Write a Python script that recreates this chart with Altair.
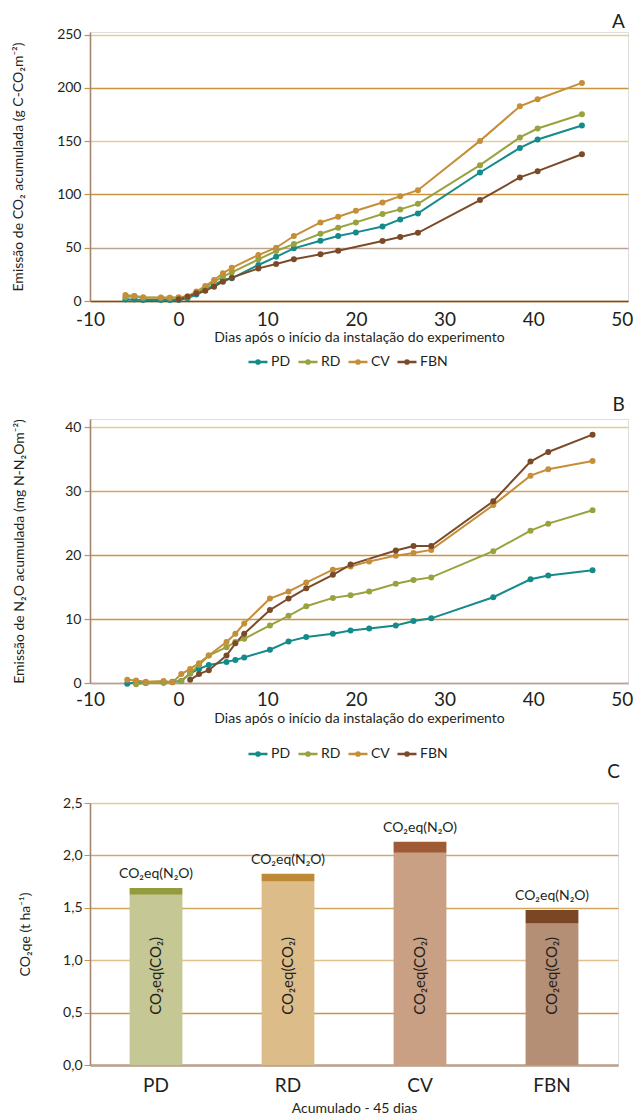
import altair as alt
import pandas as pd

FONT = "Lato"
TXT = "#231f20"

series = ["PD", "RD", "CV", "FBN"]
line_colors = ["#158a8b", "#99a23f", "#c58e38", "#7b4a28"]

# ---------------- Panel A: CO2 acumulado ----------------
A_days = [-6, -5, -4, -2, -1, 0, 1, 2, 3, 4, 5, 6, 9, 11, 13, 16, 18, 20, 23, 25, 27, 34, 38.5, 40.5, 45.5]
A_PD = [1.5, 1.5, 1.0, 1.0, 1.0, 1.0, 2.5, 6.0, 10.0, 15.0, 19.7, 21.3, 33.8, 41.5, 49.4, 56.6, 61.0, 64.4, 70.0, 76.6, 82.2, 120.6, 143.7, 151.6, 164.7]
A_RD = [3.5, 4.7, 3.0, 3.0, 3.0, 3.0, 3.5, 7.8, 11.9, 18.1, 22.8, 26.9, 39.1, 46.9, 53.4, 63.1, 68.7, 73.8, 81.6, 86.0, 91.2, 127.5, 153.5, 161.9, 175.3]
A_CV = [5.6, 4.7, 3.6, 3.4, 3.1, 3.5, 4.5, 8.8, 14.0, 19.7, 26.0, 31.2, 43.1, 50.0, 61.0, 73.8, 79.1, 84.7, 92.5, 98.4, 104.0, 150.3, 182.8, 189.4, 204.7]
A_FBN = [None, None, None, None, None, 1.6, 4.0, 7.2, 9.7, 13.4, 18.1, 21.9, 30.6, 34.7, 39.1, 43.8, 47.2, None, 56.3, 60.0, 64.0, 94.7, 116.0, 121.9, 137.8]

# ---------------- Panel B: N2O acumulado ----------------
B_days = [-5.8, -4.8, -3.7, -1.7, -0.7, 0.3, 1.3, 2.3, 3.4, 5.4, 6.4, 7.4, 10.3, 12.4, 14.4, 17.4, 19.4, 21.5, 24.5, 26.5, 28.5, 35.5, 39.7, 41.7, 46.7]
B_PD = [-0.1, 0.1, 0.0, 0.1, 0.2, 0.3, 1.5, 2.2, 2.8, 3.3, 3.6, 4.0, 5.2, 6.5, 7.2, 7.7, 8.2, 8.5, 9.0, 9.7, 10.1, 13.4, 16.2, 16.8, 17.6]
B_RD = [None, -0.2, 0.0, 0.0, 0.1, 0.3, 1.5, 2.8, 4.3, 5.6, 6.4, 6.9, 9.0, 10.5, 12.0, 13.3, 13.7, 14.3, 15.5, 16.1, 16.5, 20.6, 23.8, 24.9, 27.0]
B_CV = [0.5, 0.4, 0.2, 0.3, 0.1, 1.4, 2.2, 3.1, 4.3, 6.4, 7.7, 9.3, 13.2, 14.3, 15.7, 17.7, 18.2, 19.0, 19.9, 20.3, 20.8, 27.8, 32.4, 33.4, 34.7]
B_FBN = [None, None, None, None, None, None, 0.5, 1.4, 2.0, 4.3, 6.2, 7.7, 11.4, 13.2, 14.8, 16.9, 18.5, None, 20.7, 21.4, 21.4, 28.4, 34.6, 36.1, 38.8]

# ---------------- Panel C: CO2 equivalente ----------------
C_cats = ["PD", "RD", "CV", "FBN"]
C_co2 = [1.625, 1.75, 2.025, 1.35]
C_n2o = [0.065, 0.075, 0.105, 0.13]
C_colors_co2 = ["#c5c795", "#dcbd8a", "#c9a084", "#b48f75"]
C_colors_n2o = ["#939b3c", "#bf8a36", "#9e5b34", "#7a4625"]

x_ticks = [-10, 0, 10, 20, 30, 40, 50]
A_yticks = [0, 50, 100, 150, 200, 250]
B_yticks = [0, 10, 20, 30, 40]
C_yticks = [0, 0.5, 1.0, 1.5, 2.0, 2.5]

LIGHT = "#e3cb9f"
MID = "#d3a55c"
GOLD = "#c99540"
GREYBR = "#bba394"

SYM = "M-1,0L1,0M-0.17,0A0.17,0.17,0,1,1,0.17,0A0.17,0.17,0,1,1,-0.17,0Z"


def long_df(days, cols):
    rows = []
    for name, vals in zip(series, cols):
        for d, v in zip(days, vals):
            if v is not None:
                rows.append({"dia": d, "valor": v, "trat": name})
    return pd.DataFrame(rows)


def line_panel(df, ymax, yticks, ytitle, grid_cond, xdomain_color, letter, height,
               legend_y, title_x, lab_pad, tit_pad, t_off, t_dy):
    base = alt.Chart(df)
    x = alt.X(
        "dia:Q",
        scale=alt.Scale(domain=[-10, 50.7], nice=False, zero=False),
        axis=alt.Axis(
            values=x_ticks, title="Dias após o início da instalação do experimento",
            grid=False, ticks=False, labelFontSize=19, labelFlush=False,
            labelExpr="replace(datum.label, '−', '-')",
            domainColor=xdomain_color, domainWidth=1.6, titleFontSize=14,
            titleFontWeight="normal", labelPadding=lab_pad, titlePadding=tit_pad,
            labelColor=TXT, titleColor=TXT, labelFont=FONT, titleFont=FONT,
        ),
    )
    y = alt.Y(
        "valor:Q",
        scale=alt.Scale(domain=[0, ymax], nice=False, zero=False),
        axis=alt.Axis(
            values=yticks, title=ytitle, gridColor=grid_cond, gridWidth=1.5,
            tickColor=GOLD, tickSize=6, tickWidth=1.2, domainColor="#a4866f",
            domainWidth=1.6, labelFontSize=14, titleFontSize=14,
            titleFontWeight="normal", labelPadding=3, titleX=title_x,
            labelColor=TXT, titleColor=TXT, labelFont=FONT, titleFont=FONT,
        ),
    )
    color = alt.Color(
        "trat:N", sort=series,
        scale=alt.Scale(domain=series, range=line_colors),
        legend=alt.Legend(
            orient="none", legendX=157, legendY=legend_y, direction="horizontal",
            title=None, symbolType=SYM, symbolSize=361, symbolStrokeWidth=2.4,
            labelFontSize=14, labelFont=FONT, labelColor=TXT, columnPadding=2,
            labelOffset=2,
        ),
    )
    line = base.mark_line(strokeWidth=2).encode(x=x, y=y, color=color)
    pts = base.mark_circle(size=36, opacity=1).encode(
        x="dia:Q", y="valor:Q",
        color=alt.Color("trat:N", sort=series, scale=alt.Scale(domain=series, range=line_colors), legend=None),
    )
    return alt.layer(line, pts).properties(
        width=538, height=height,
        title=alt.TitleParams(letter, anchor="end", fontSize=19, fontWeight="normal",
                              font=FONT, color=TXT, dx=-8, dy=t_dy, offset=t_off),
    )


A_grid = {"condition": [
    {"test": "datum.value == 50", "value": GREYBR},
    {"test": "datum.value == 250 || datum.value == 150", "value": LIGHT},
], "value": GOLD}
B_grid = {"condition": [
    {"test": "datum.value == 0", "value": GREYBR},
    {"test": "datum.value == 40", "value": LIGHT},
    {"test": "datum.value == 30", "value": MID},
], "value": GOLD}
C_grid = {"condition": [
    {"test": "datum.value == 2.5", "value": LIGHT},
    {"test": "datum.value == 2", "value": "#d0a777"},
    {"test": "datum.value == 1", "value": "#e1c08d"},
    {"test": "datum.value == 1.5", "value": MID},
], "value": GOLD}

chartA = line_panel(long_df(A_days, [A_PD, A_RD, A_CV, A_FBN]), 252.5, A_yticks,
                    "Emissão de CO₂ acumulada (g C-CO₂m⁻²)", A_grid, "#7b4a28", "A", 269,
                    319, -65, 9, 1, 0, 4)
chartB = line_panel(long_df(B_days, [B_PD, B_RD, B_CV, B_FBN]), 41.25, B_yticks,
                    "Emissão de N₂O acumulada (mg N-N₂Om⁻²)", B_grid, GREYBR, "B", 264,
                    324, -64, 7, 2, 4, 0)

# Panel C data frames
rows = []
keys, kcolors = [], []
for i, c in enumerate(C_cats):
    rows.append({"cat": c, "parte": "CO2", "ordem": 0, "valor": C_co2[i], "chave": c + "_CO2"})
    rows.append({"cat": c, "parte": "N2O", "ordem": 1, "valor": C_n2o[i], "chave": c + "_N2O"})
    keys += [c + "_CO2", c + "_N2O"]
    kcolors += [C_colors_co2[i], C_colors_n2o[i]]
dfc = pd.DataFrame(rows)
dft = pd.DataFrame({"cat": C_cats, "total": [a + b for a, b in zip(C_co2, C_n2o)]})

xc = alt.X("cat:N", sort=C_cats,
           scale=alt.Scale(paddingInner=0.6, paddingOuter=0.3),
           axis=alt.Axis(title="Acumulado - 45 dias", labelAngle=0, ticks=False,
                         labelFontSize=19, labelPadding=11, titleFontSize=14,
                         titleFontWeight="normal", titlePadding=6, domainColor=GREYBR,
                         domainWidth=2.6, labelColor=TXT, titleColor=TXT,
                         labelFont=FONT, titleFont=FONT))
yc = alt.Y("valor:Q", stack="zero",
           scale=alt.Scale(domain=[0, 2.5], nice=False),
           axis=alt.Axis(values=C_yticks, title="CO₂qe (t ha⁻¹)",
                         labelExpr="replace(format(datum.value, '.1f'), '.', ',')",
                         gridColor=C_grid, gridWidth=1.5, tickColor=GOLD, tickSize=6,
                         domainColor="#a4866f", domainWidth=1.6, labelFontSize=14,
                         titleFontSize=14, titleFontWeight="normal", titleX=-58,
                         labelColor=TXT, titleColor=TXT, labelFont=FONT, titleFont=FONT))
bars = alt.Chart(dfc).mark_bar().encode(
    x=xc, y=yc,
    color=alt.Color("chave:N", scale=alt.Scale(domain=keys, range=kcolors), legend=None),
    order=alt.Order("ordem:Q", sort="ascending"),
)
top_lbl = alt.Chart(dft).mark_text(text="CO₂eq(N₂O)", dy=-14, fontSize=14, font=FONT, color=TXT).encode(
    x=alt.X("cat:N", sort=C_cats), y=alt.Y("total:Q"))
in_lbl = alt.Chart(dft).mark_text(text="CO₂eq(CO₂)", angle=270, fontSize=15, font=FONT, color=TXT).encode(
    x=alt.X("cat:N", sort=C_cats), y=alt.datum(0.85))
chartC = alt.layer(bars, top_lbl, in_lbl).properties(
    width=528, height=262,
    title=alt.TitleParams("C", anchor="end", fontSize=19, fontWeight="normal",
                          font=FONT, color=TXT, dx=2, offset=14),
)

topAB = alt.vconcat(chartA, chartB, spacing=25).resolve_scale(
    color="independent", x="independent", y="independent"
).resolve_legend(color="independent")

chart = alt.vconcat(topAB, chartC, spacing=0).resolve_scale(
    color="independent", x="independent", y="independent"
).resolve_legend(color="independent").properties(
    padding={"left": 10, "top": 12, "right": 0, "bottom": 0}
).configure_view(stroke=None).configure(font=FONT)

chart.save("out.html", embed_options={"renderer": "svg", "actions": False})
